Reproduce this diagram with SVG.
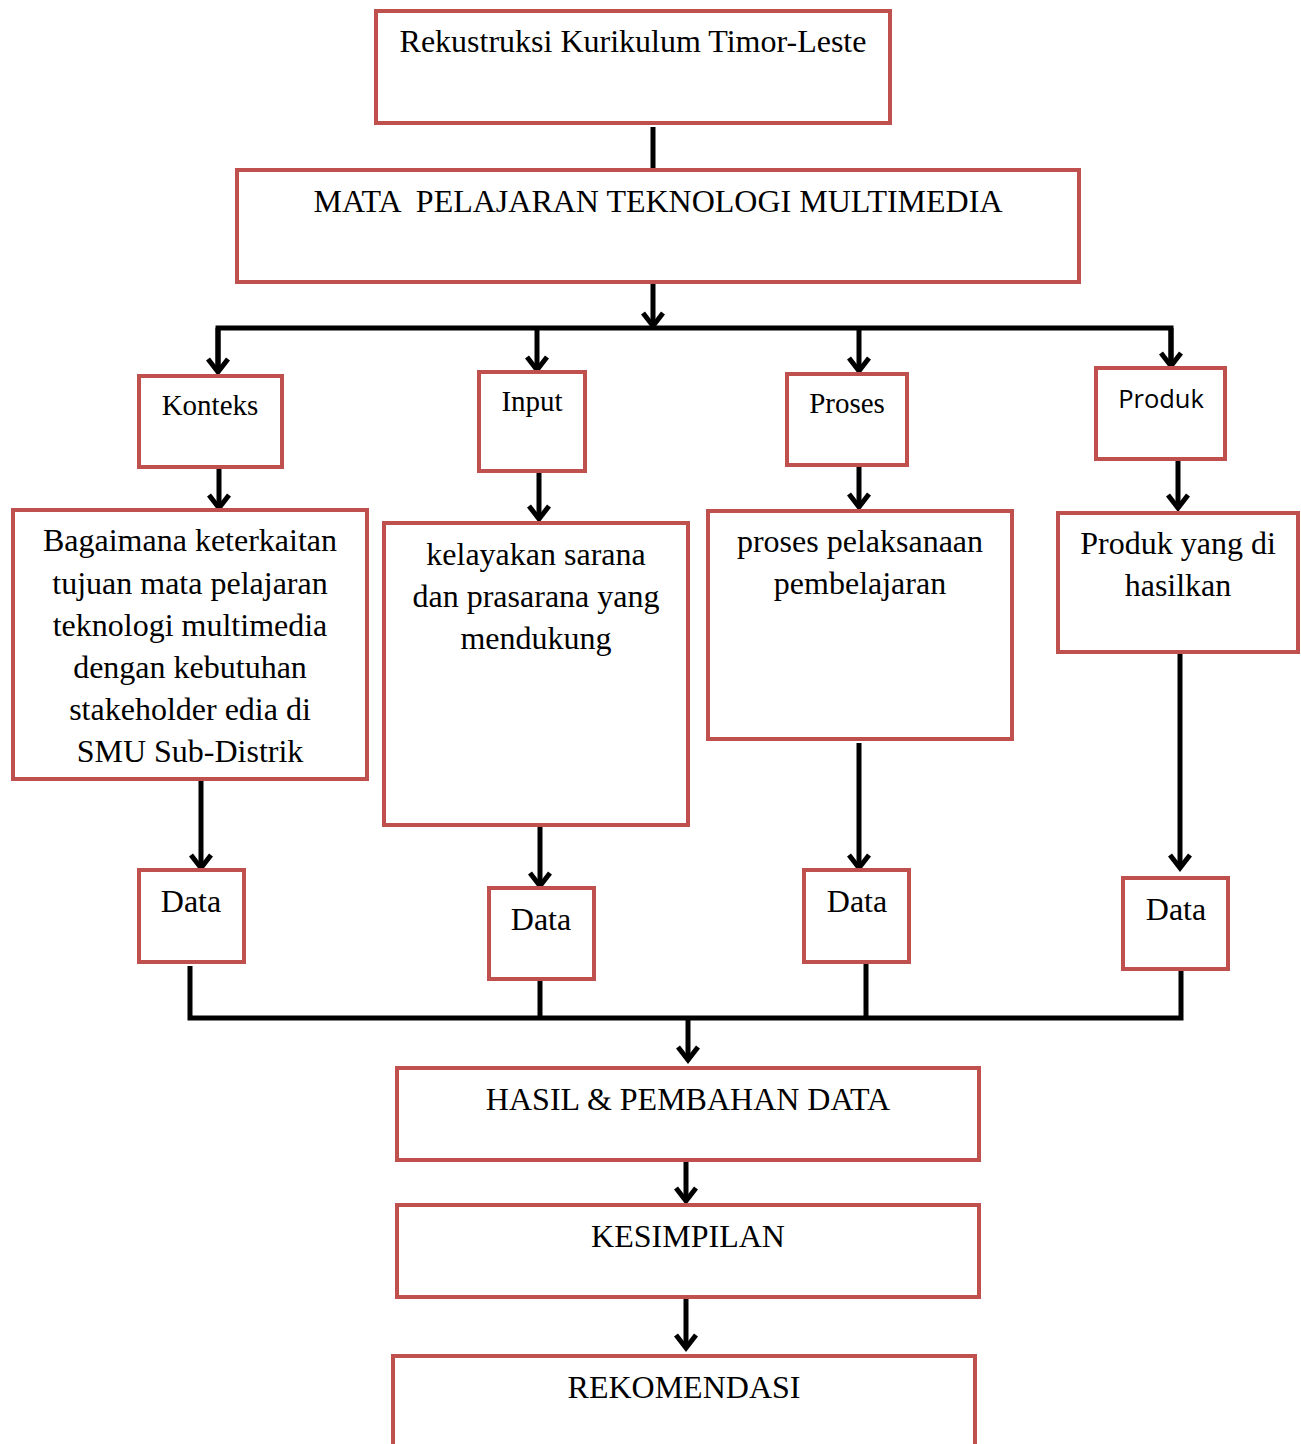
<svg xmlns="http://www.w3.org/2000/svg" width="1301" height="1444" viewBox="0 0 1301 1444">
<style>
.box{fill:#fff;stroke:#C0504D;stroke-width:4}
.t{font-family:"Liberation Serif","Times New Roman",serif;font-size:32px;fill:#000;text-anchor:middle}
.m{font-size:29px}
.s{font-family:"Open Sans","Liberation Sans",sans-serif;font-size:25.5px;fill:#000;text-anchor:middle}
.c{fill:none;stroke:#000;stroke-width:5}
</style>
<defs>
<marker id="ah" markerUnits="userSpaceOnUse" markerWidth="26" markerHeight="28" refX="20" refY="13" viewBox="0 0 26 26" orient="auto">
<path d="M7,3 L20,13 L7,23" fill="none" stroke="#000" stroke-width="5"/>
</marker>
</defs>
<rect width="1301" height="1444" fill="#fff"/>
<g id="connectors">
<path class="c" d="M653,127 V170"/>
<path class="c" d="M653,282 V326" marker-end="url(#ah)"/>
<path class="c" d="M218,370 V328 H1171 V364"/>
<path class="c" d="M218,328 V372" marker-end="url(#ah)"/>
<path class="c" d="M537,328 V370" marker-end="url(#ah)"/>
<path class="c" d="M859,328 V371" marker-end="url(#ah)"/>
<path class="c" d="M1171,328 V366" marker-end="url(#ah)"/>
<path class="c" d="M219,467 V508" marker-end="url(#ah)"/>
<path class="c" d="M539,471 V519" marker-end="url(#ah)"/>
<path class="c" d="M859,465 V507" marker-end="url(#ah)"/>
<path class="c" d="M1178,459 V508" marker-end="url(#ah)"/>
<path class="c" d="M201,779 V868" marker-end="url(#ah)"/>
<path class="c" d="M540,825 V886" marker-end="url(#ah)"/>
<path class="c" d="M859,743 V868" marker-end="url(#ah)"/>
<path class="c" d="M1180,650 V868" marker-end="url(#ah)"/>
<path class="c" d="M190,966 V1018 H1181 V970"/>
<path class="c" d="M540,981 V1018"/>
<path class="c" d="M866,964 V1018"/>
<path class="c" d="M688,1018 V1060" marker-end="url(#ah)"/>
<path class="c" d="M686,1160 V1201" marker-end="url(#ah)"/>
<path class="c" d="M686,1299 V1348" marker-end="url(#ah)"/>
</g>
<g id="n-top"><rect class="box" x="376" y="11" width="514" height="112"/><text class="t" x="633" y="52">Rekustruksi Kurikulum Timor-Leste</text></g>
<g id="n-mata"><rect class="box" x="237" y="170" width="842" height="112"/><text class="t" x="658" y="212" xml:space="preserve">MATA  PELAJARAN TEKNOLOGI MULTIMEDIA</text></g>
<g id="n-konteks"><rect class="box" x="139" y="376" width="143" height="91"/><text class="t m" x="210" y="415">Konteks</text></g>
<g id="n-input"><rect class="box" x="479" y="372" width="106" height="99"/><text class="t m" x="532" y="411">Input</text></g>
<g id="n-proses"><rect class="box" x="787" y="374" width="120" height="91"/><text class="t m" x="847" y="413">Proses</text></g>
<g id="n-produk"><rect class="box" x="1096" y="368" width="129" height="91"/><text class="s" x="1161" y="408">Produk</text></g>
<g id="n-konteks-d"><rect class="box" x="13" y="510" width="354" height="269"/>
<text class="t" x="190" y="551">Bagaimana keterkaitan</text>
<text class="t" x="190" y="594">tujuan mata pelajaran</text>
<text class="t" x="190" y="636">teknologi multimedia</text>
<text class="t" x="190" y="678">dengan kebutuhan</text>
<text class="t" x="190" y="720">stakeholder edia di</text>
<text class="t" x="190" y="762">SMU Sub-Distrik</text></g>
<g id="n-input-d"><rect class="box" x="384" y="523" width="304" height="302"/>
<text class="t" x="536" y="565">kelayakan sarana</text>
<text class="t" x="536" y="607">dan prasarana yang</text>
<text class="t" x="536" y="649">mendukung</text></g>
<g id="n-proses-d"><rect class="box" x="708" y="511" width="304" height="228"/>
<text class="t" x="860" y="552">proses pelaksanaan</text>
<text class="t" x="860" y="594">pembelajaran</text></g>
<g id="n-produk-d"><rect class="box" x="1058" y="513" width="240" height="139"/>
<text class="t" x="1178" y="554">Produk yang di</text>
<text class="t" x="1178" y="596">hasilkan</text></g>
<g id="n-data1"><rect class="box" x="139" y="870" width="105" height="92"/><text class="t" x="191" y="912">Data</text></g>
<g id="n-data2"><rect class="box" x="489" y="888" width="105" height="91"/><text class="t" x="541" y="930">Data</text></g>
<g id="n-data3"><rect class="box" x="804" y="870" width="105" height="92"/><text class="t" x="857" y="912">Data</text></g>
<g id="n-data4"><rect class="box" x="1123" y="878" width="105" height="91"/><text class="t" x="1176" y="920">Data</text></g>
<g id="n-hasil"><rect class="box" x="397" y="1068" width="582" height="92"/><text class="t" x="688" y="1110">HASIL &amp; PEMBAHAN DATA</text></g>
<g id="n-kesimpilan"><rect class="box" x="397" y="1205" width="582" height="92"/><text class="t" x="688" y="1247">KESIMPILAN</text></g>
<g id="n-rekomendasi"><rect class="box" x="393" y="1356" width="582" height="110"/><text class="t" x="684" y="1398">REKOMENDASI</text></g>
</svg>
